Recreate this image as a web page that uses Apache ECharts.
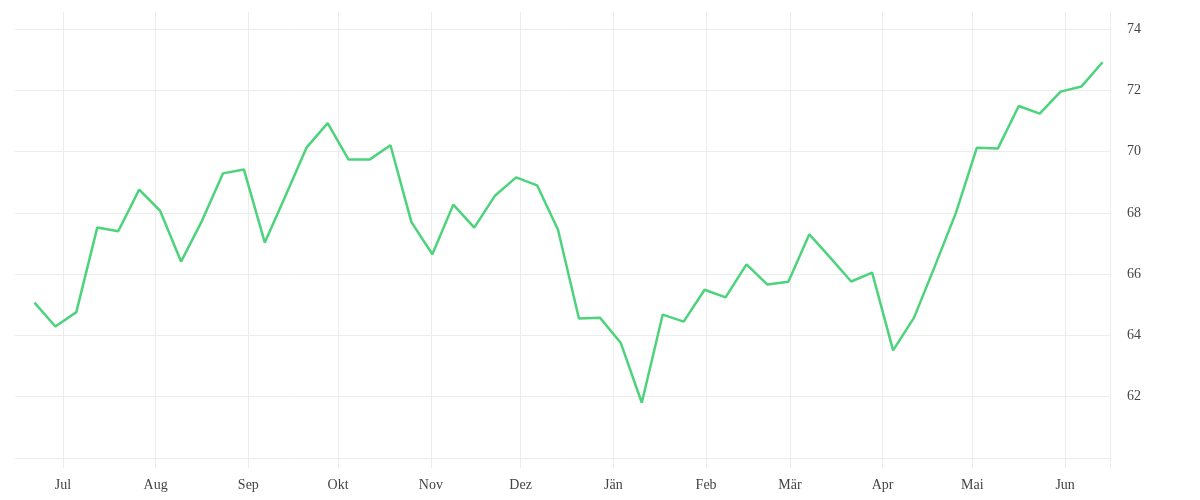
<!DOCTYPE html>
<html>
<head>
<meta charset="utf-8">
<script src="https://cdn.jsdelivr.net/npm/echarts@6/dist/echarts.min.js"></script>
<style>html,body{margin:0;padding:0;background:#fff}#c{width:1200px;height:500px}</style>
</head>
<body>
<div id="c"></div>
<script>
const dates = [
  '2022-06-21','2022-06-28','2022-07-05','2022-07-12','2022-07-19','2022-07-26',
  '2022-08-02','2022-08-09','2022-08-16','2022-08-23','2022-08-30',
  '2022-09-06','2022-09-13','2022-09-20','2022-09-27',
  '2022-10-04','2022-10-11','2022-10-18','2022-10-25',
  '2022-11-01','2022-11-08','2022-11-15','2022-11-22','2022-11-29',
  '2022-12-06','2022-12-13','2022-12-20','2022-12-27',
  '2023-01-03','2023-01-10','2023-01-17','2023-01-24','2023-01-31',
  '2023-02-07','2023-02-14','2023-02-21','2023-02-28',
  '2023-03-07','2023-03-14','2023-03-21','2023-03-28',
  '2023-04-04','2023-04-11','2023-04-18','2023-04-25',
  '2023-05-02','2023-05-09','2023-05-16','2023-05-23','2023-05-30',
  '2023-06-06','2023-06-13'
];
const values = [
  65.07, 64.29, 64.76, 67.52, 67.40, 68.76,
  68.07, 66.41, 67.74, 69.29, 69.42,
  67.03, 68.58, 70.14, 70.93,
  69.74, 69.74, 70.21, 67.70,
  66.65, 68.27, 67.52, 68.57, 69.16,
  68.90, 67.45, 64.55, 64.58,
  63.75, 61.80, 64.68, 64.45, 65.49,
  65.24, 66.32, 65.66, 65.75,
  67.30, 66.54, 65.76, 66.05,
  63.51, 64.58, 66.27, 68.00,
  70.13, 70.10, 71.49, 71.24, 71.96,
  72.13, 72.92
];
const monthNames = ['Jän','Feb','Mär','Apr','Mai','Jun','Jul','Aug','Sep','Okt','Nov','Dez'];
const yTicks = [60, 62, 64, 66, 68, 70, 72, 74];

const chart = echarts.init(document.getElementById('c'), null, {renderer: 'canvas'});
const font = '"Liberation Serif", "DejaVu Serif", serif';
chart.setOption({
  animation: false,
  grid: {left: 15, right: 90, top: 12, bottom: 32},
  xAxis: {
    type: 'time',
    min: new Date(2022, 5, 15).getTime(),
    max: new Date(2023, 5, 16).getTime(),
    splitNumber: 12,
    axisLine: {show: false},
    axisTick: {show: false},
    splitLine: {show: true, showMinLine: false, showMaxLine: false, lineStyle: {color: '#ececec', width: 1}},
    axisLabel: {
      color: '#444', fontFamily: font, fontSize: 14, margin: 10,
      showMinLabel: false, showMaxLabel: false,
      formatter: function (v) {
        const d = new Date(v);
        return d.getDate() === 1 ? monthNames[d.getMonth()] : '';
      }
    }
  },
  yAxis: {
    type: 'value',
    position: 'right',
    min: 59.67,
    max: 74.56,
    splitNumber: 7,
    minInterval: 2,
    maxInterval: 2,
    axisLine: {show: true, lineStyle: {color: '#ececec', width: 1}},
    axisTick: {show: false},
    splitLine: {show: true, showMinLine: false, showMaxLine: false, lineStyle: {color: '#ececec', width: 1}},
    axisLabel: {
      color: '#444', fontFamily: font, fontSize: 14, margin: 17,
      padding: [3, 0, 0, 0],
      showMinLabel: false, showMaxLabel: false,
      formatter: function (v) {
        return (yTicks.indexOf(v) > 0) ? String(v) : '';
      }
    }
  },
  series: [{
    type: 'line',
    data: dates.map((d, i) => [new Date(d + 'T12:00:00').getTime(), values[i]]),
    showSymbol: false,
    symbol: 'none',
    lineStyle: {color: '#4cd37c', width: 2.5},
    itemStyle: {color: '#4cd37c'}
  }]
});
</script>
</body>
</html>
